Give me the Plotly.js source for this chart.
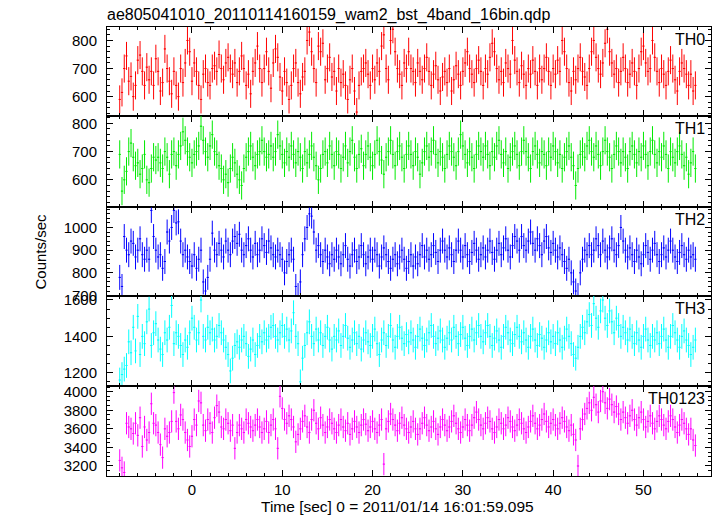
<!DOCTYPE html>
<html>
<head>
<meta charset="utf-8">
<script src="https://cdn.plot.ly/plotly-3.0.1.min.js"></script>
<style>html,body{margin:0;padding:0;background:#fff;}#chart{width:717px;height:516px;}</style>
</head>
<body>
<div id="chart"></div>
<script>
// ---- data (count rates, counts/sec, 0.25 s bins starting at t = -8 s) ----
const titleText = "ae805041010_20110114160159_wam2_bst_4band_16bin.qdp";
const xTitleText = "Time [sec] 0 = 2011/01/14 16:01:59.095";
const yTitleText = "Counts/sec";
const bandNames = ["TH0", "TH1", "TH2", "TH3", "TH0123"];
const tStart = -8.0;
const binWidth = 0.25;

const th0 = [
 590,615,700,745,655,672,600,640,730,748,690,640,705,660,690,640,
 735,690,620,650,770,700,655,610,690,640,600,700,650,720,800,760,
 655,720,690,640,590,680,700,650,640,700,710,690,750,700,660,720,
 740,700,680,720,650,690,745,700,640,680,610,690,720,780,700,650,
 700,760,690,630,720,770,740,670,620,690,650,590,640,700,720,650,
 610,670,690,800,830,760,700,650,780,760,790,660,700,740,670,690,
 620,700,650,680,640,590,660,700,620,545,640,690,700,720,680,640,
 700,660,720,690,780,820,700,660,800,840,760,700,680,640,720,700,
 760,700,690,650,720,690,660,700,740,690,640,680,710,660,620,670,
 690,650,700,620,660,710,680,640,690,720,760,700,680,650,700,730,
 690,640,700,680,740,790,760,700,660,690,650,720,700,680,800,730,
 690,650,710,680,640,700,680,730,690,640,700,660,700,740,690,640,
 700,680,730,690,800,760,700,650,620,690,660,700,740,690,670,640,
 700,760,800,740,700,680,720,790,840,760,720,680,700,650,690,740,
 700,650,680,720,690,640,700,760,780,720,690,700,800,740,690,650,
 700,680,640,690,730,700,660,620,690,720,700,680,640,680,620,640
];
const th1 = [
 690,560,600,630,700,730,680,650,660,620,640,690,600,590,640,680,
 670,680,660,640,700,680,620,690,700,650,690,720,770,740,700,680,
 660,690,700,720,790,740,700,680,720,760,700,690,650,640,600,620,
 590,640,680,660,620,600,580,640,680,700,720,680,650,690,700,740,
 700,680,690,720,680,700,760,720,690,660,700,680,720,690,660,700,
 680,640,700,660,690,720,680,650,600,640,690,700,660,720,690,650,
 700,690,640,680,720,660,700,740,680,640,690,710,650,690,720,680,
 650,690,740,700,670,620,680,700,740,690,650,700,720,680,640,690,
 720,690,650,700,680,620,660,700,720,680,700,740,690,660,700,680,
 640,690,720,700,680,650,700,760,720,690,660,700,680,640,690,720,
 700,680,720,690,650,700,680,720,740,690,660,700,640,680,700,720,
 690,650,700,740,700,680,640,700,720,690,660,700,690,650,700,680,
 720,700,660,690,640,680,700,720,680,650,580,640,690,700,680,720,
 740,700,680,720,690,650,700,740,700,680,640,690,720,700,660,700,
 680,640,700,720,690,660,700,680,720,690,650,700,740,690,660,700,
 680,720,690,640,700,680,660,700,720,690,650,680,620,660,700,640
];
const th2 = [
 780,740,960,900,880,940,930,870,900,950,880,860,900,860,1075,960,
 900,870,880,820,850,980,940,1000,1075,1020,1025,940,880,900,870,850,
 830,880,820,860,900,760,720,780,860,975,900,880,930,900,870,940,
 900,880,940,960,930,970,900,880,920,950,900,870,930,880,900,950,
 920,890,940,910,880,870,900,880,860,800,850,880,900,860,740,700,
 760,880,950,1000,1060,1050,980,900,920,880,850,900,870,840,880,860,
 900,870,840,880,920,860,830,880,900,850,870,920,880,840,870,900,
 860,900,880,830,870,910,880,850,820,860,880,840,870,900,860,820,
 850,880,830,870,840,880,920,870,900,860,880,920,890,850,900,940,
 900,870,910,880,850,900,940,900,870,920,880,850,890,930,900,860,
 880,910,870,900,940,890,860,900,930,880,910,950,900,870,920,960,
 940,900,960,920,900,940,980,930,900,950,920,880,940,960,910,890,
 930,900,870,910,880,850,820,860,800,760,720,700,800,860,900,880,
 920,880,900,950,920,880,940,900,870,910,950,900,880,920,1000,940,
 900,870,910,880,850,900,870,840,880,920,890,860,900,930,880,850,
 880,910,870,900,940,900,870,850,890,920,880,860,900,870,880,860
];
const th3 = [
 1160,1190,1220,1240,1370,1310,1450,1320,1510,1300,1400,1360,1480,1550,1350,1420,
 1470,1380,1330,1300,1420,1380,1450,1570,1360,1420,1400,1350,1300,1380,1340,1420,
 1500,1450,1380,1420,1600,1400,1380,1450,1420,1440,1380,1400,1460,1420,1380,1340,
 1300,1210,1280,1350,1370,1340,1380,1400,1360,1290,1330,1380,1300,1350,1400,1370,
 1420,1380,1400,1450,1460,1400,1380,1420,1460,1400,1440,1380,1430,1530,1400,1360,
 1150,1280,1350,1420,1480,1400,1360,1440,1380,1420,1350,1400,1450,1380,1330,1400,
 1380,1430,1350,1400,1460,1390,1340,1380,1420,1360,1400,1330,1380,1420,1370,1350,
 1400,1440,1360,1300,1380,1420,1350,1400,1460,1380,1340,1400,1450,1390,1360,1410,
 1370,1420,1380,1340,1400,1440,1390,1350,1380,1420,1460,1400,1360,1390,1430,1380,
 1340,1390,1420,1380,1450,1400,1360,1410,1450,1390,1350,1400,1440,1380,1420,1460,
 1400,1370,1420,1460,1400,1350,1390,1430,1380,1340,1400,1450,1420,1380,1360,1410,
 1450,1400,1370,1420,1380,1340,1400,1440,1380,1350,1410,1390,1340,1380,1420,1370,
 1400,1360,1420,1380,1340,1390,1440,1400,1360,1300,1280,1340,1400,1450,1420,1480,
 1520,1460,1580,1500,1450,1540,1600,1500,1460,1540,1480,1420,1500,1460,1400,1450,
 1420,1380,1440,1400,1360,1420,1380,1340,1400,1440,1380,1350,1400,1380,1420,1360,
 1400,1440,1380,1340,1400,1460,1420,1380,1340,1400,1430,1380,1350,1300,1340,1380
];
const th0123 = [
 3260,3180,3130,3660,3620,3600,3550,3660,3530,3720,3410,3620,3480,3560,3870,3660,
 3640,3560,3430,3290,3600,3520,3560,3680,3990,3680,3600,3750,3700,3560,3480,3410,
 3520,3700,3640,3900,3880,3640,3580,3700,3660,3560,3720,3850,3780,3620,3600,3700,
 3660,3580,3640,3390,3560,3640,3600,3560,3700,3660,3620,3580,3640,3700,3620,3560,
 3600,3680,3560,3640,3700,3600,3390,3950,3820,3700,3660,3740,3700,3620,3460,3540,
 3600,3680,3740,3620,3560,3700,3800,3660,3600,3720,3640,3560,3620,3700,3660,3600,
 3560,3640,3700,3620,3580,3660,3540,3600,3680,3620,3560,3640,3700,3650,3580,3620,
 3680,3600,3560,3640,3700,3220,3600,3680,3760,3700,3640,3580,3660,3720,3640,3600,
 3560,3620,3680,3600,3540,3600,3660,3720,3640,3580,3620,3680,3600,3540,3620,3700,
 3640,3580,3620,3680,3740,3660,3600,3560,3620,3700,3640,3580,3640,3720,3780,3700,
 3640,3600,3660,3720,3680,3600,3560,3620,3700,3660,3600,3640,3720,3680,3620,3580,
 3640,3700,3660,3600,3560,3620,3680,3740,3660,3600,3640,3700,3760,3680,3620,3660,
 3700,3640,3600,3660,3720,3680,3620,3580,3640,3540,3480,3200,3600,3700,3760,3820,
 3880,3800,3940,3860,3780,3900,4000,3880,3820,3920,3860,3780,3840,3760,3700,3780,
 3720,3660,3740,3800,3700,3640,3720,3780,3700,3620,3680,3740,3660,3600,3680,3740,
 3700,3640,3600,3680,3740,3700,3620,3560,3640,3700,3660,3600,3540,3600,3480,3420
];
// typical 1-sigma rate error per band (counts/sec)
const rateErrors = [50, 50, 55, 68, 120];

// ---- styling ----
const series = [th0, th1, th2, th3, th0123];
const colors = ["rgb(255,0,0)", "rgb(0,235,0)", "rgb(0,0,255)", "rgb(0,255,255)", "rgb(255,0,255)"];
const yRanges = [[531, 848], [502, 826], [698, 1088], [1127, 1622], [3092, 4061]];
const yDticks = [100, 100, 100, 200, 200];
const yMinor = [20, 20, 20, 50, 50];
const domains = [[0.8018, 1], [0.598, 0.8018], [0.4009, 0.598], [0.2004, 0.4009], [0, 0.2004]];
const xRange = [-9.41, 57.48];

const traces = [];
const layout = {
  width: 717, height: 516,
  margin: {l: 107, r: 6, t: 27, b: 40},
  paper_bgcolor: "white", plot_bgcolor: "white",
  showlegend: false,
  font: {family: "Liberation Sans, Arial, sans-serif", size: 14, color: "black"},
  title: {text: titleText, xref: "paper", x: 0, xanchor: "left",
          yref: "container", y: 1 - 14/516, yanchor: "middle",
          font: {size: 16, color: "black"}},
  annotations: []
};

series.forEach((vals, k) => {
  const n = k + 1;
  const times = vals.map((_, i) => tStart + i * binWidth);
  traces.push({
    type: "scatter", mode: "markers",
    x: times, y: vals,
    xaxis: "x" + n, yaxis: "y" + n,
    marker: {size: 1, color: colors[k]},
    error_y: {type: "constant", value: rateErrors[k], thickness: 1, width: 0, color: colors[k]},
    error_x: {type: "constant", value: binWidth / 2, thickness: 1, width: 0, color: colors[k]},
    hoverinfo: "skip"
  });
  layout["xaxis" + n] = {
    domain: [0, 1], anchor: "y" + n, range: xRange,
    tick0: 0, dtick: 10, ticks: "inside", ticklen: 6, tickcolor: "black", tickwidth: 1,
    showline: true, linecolor: "black", linewidth: 1, mirror: "ticks",
    showgrid: false, zeroline: false, showticklabels: n === 5,
    minor: {ticks: "inside", dtick: 2, tick0: 0, ticklen: 3, tickcolor: "black", showgrid: false},
    tickfont: {size: 15}
  };
  if (n > 1) layout["xaxis" + n].matches = "x";
  layout["yaxis" + n] = {
    domain: domains[k], anchor: "x" + n, range: yRanges[k],
    tick0: 0, dtick: yDticks[k], ticks: "inside", ticklen: 6, tickcolor: "black", tickwidth: 1,
    showline: true, linecolor: "black", linewidth: 1, mirror: "ticks",
    showgrid: false, zeroline: false,
    minor: {ticks: "inside", dtick: yMinor[k], tick0: 0, ticklen: 3, tickcolor: "black", showgrid: false},
    tickfont: {size: 15}, ticklabelstandoff: 6
  };
  layout.annotations.push({
    text: bandNames[k], showarrow: false,
    xref: "paper", x: 1, xanchor: "right", xshift: -4,
    yref: "y" + n + " domain", y: 1, yanchor: "top", yshift: -2,
    font: {size: 16, color: "black"}
  });
});

layout.annotations.push({
  text: xTitleText, showarrow: false,
  xref: "paper", x: (397 - 107) / 604, xanchor: "center",
  yref: "paper", y: 0, yanchor: "top", yshift: -20,
  font: {size: 15.5, color: "black"}
});
layout.annotations.push({
  text: yTitleText, showarrow: false, textangle: -90,
  xref: "paper", x: (40 - 107) / 604, xanchor: "center",
  yref: "paper", y: 0.5, yanchor: "middle",
  font: {size: 15, color: "black"}
});

Plotly.newPlot("chart", traces, layout, {displayModeBar: false, staticPlot: true});
</script>
</body>
</html>
